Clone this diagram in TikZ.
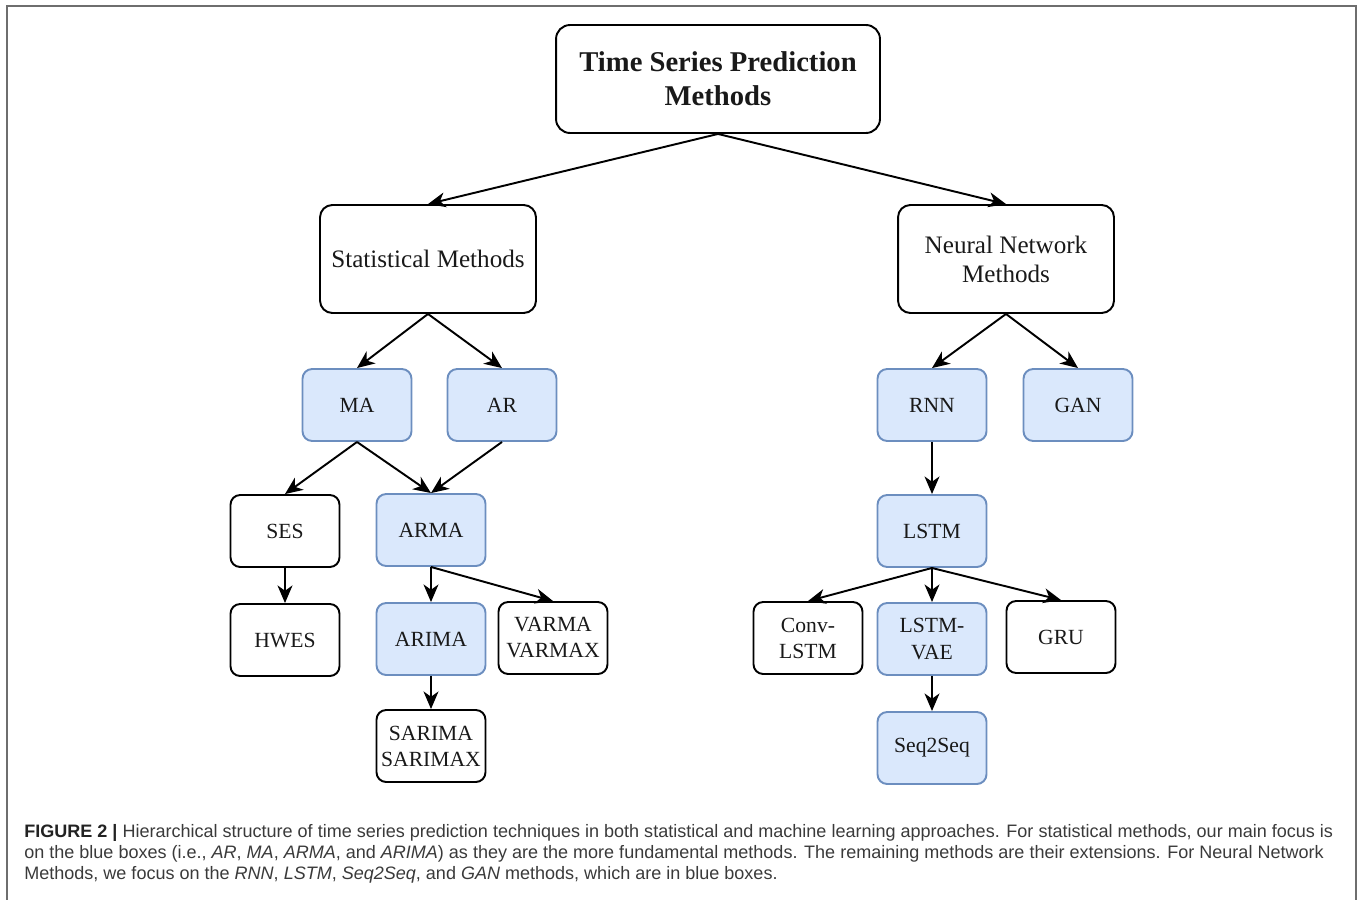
\documentclass[tikz,border=0pt]{standalone}
\usepackage{fontspec}
\setmainfont{Liberation Serif}
\newfontfamily\capfont{Liberation Sans}
\usetikzlibrary{arrows.meta}
\definecolor{bluefill}{HTML}{DAE8FC}
\definecolor{bluedraw}{HTML}{6C8EBF}
\definecolor{framegray}{HTML}{6E6E6E}
\definecolor{captxt}{HTML}{3A3A3A}
\definecolor{capbold}{HTML}{222222}
\newlength\capwidthmeasure
\newcommand\capLineOne{\textbf{\color{capbold}FIGURE 2 |} Hierarchical structure of time series prediction techniques in both statistical and machine learning approaches. For statistical methods, our main focus is}
\newcommand\capLineTwo{on the blue boxes (i.e., \textit{AR}, \textit{MA}, \textit{ARMA}, and \textit{ARIMA}) as they are the more fundamental methods. The remaining methods are their extensions. For Neural Network}
\newcommand\capLineThree{Methods, we focus on the \textit{RNN}, \textit{LSTM}, \textit{Seq2Seq}, and \textit{GAN} methods, which are in blue boxes.}
\begin{document}
\settowidth\capwidthmeasure{\capfont\fontsize{10}{12}\selectfont\capLineOne}%
\pgfmathsetmacro\capsz{10*26.18cm/\capwidthmeasure}%
\begin{tikzpicture}[x=0.02cm,y=-0.02cm,
  box/.style={draw=black, line width=1.1pt, rounded corners=5.5pt, minimum width=2.18cm, minimum height=1.44cm, align=center, inner sep=1pt, text=black!90, font=\fontsize{12.3}{14.8}\selectfont},
  bbox/.style={box, fill=bluefill, draw=bluedraw},
  bigbox/.style={box, minimum width=4.32cm, minimum height=2.16cm, rounded corners=7pt, font=\fontsize{14.3}{16.5}\selectfont},
  arr/.style={line width=1.1pt, -{Stealth[length=10pt,width=8.5pt,inset=3pt]}},
  capline/.style={anchor=base west, inner sep=0pt, text=captxt, font=\capfont\fontsize{\capsz}{12}\selectfont}]
\useasboundingbox (0,0) rectangle (1358,899);
% frame
\draw[framegray, line width=1.2pt] (7,905) -- (7,6) -- (1356,6) -- (1356,905);
% nodes
\node[box, minimum width=6.48cm, minimum height=2.16cm, rounded corners=8pt, font=\fontsize{16.3}{19.4}\selectfont\bfseries] (top) at (718,79) {Time Series Prediction\\Methods};
\node[bigbox] (stat) at (428,259) {Statistical Methods};
\node[bigbox] (nn) at (1006,259) {Neural Network\\Methods};
\node[bbox] (ma) at (357,405) {MA};
\node[bbox] (ar) at (502,405) {AR};
\node[bbox] (rnn) at (932,405) {RNN};
\node[bbox] (gan) at (1078,405) {GAN};
\node[box] (ses) at (285,531) {SES};
\node[bbox] (arma) at (431,530) {ARMA};
\node[box] (hwes) at (285,640) {HWES};
\node[bbox] (arima) at (431,639) {ARIMA};
\node[box] (varma) at (553,638) {VARMA\\VARMAX};
\node[box] (sarima) at (431,746) {SARIMA\\SARIMAX};
\node[bbox] (lstm) at (932,531) {LSTM};
\node[box] (conv) at (808,638) {Conv-\\LSTM};
\node[bbox] (lstmvae) at (932,639) {LSTM-\\VAE};
\node[box] (gru) at (1061,637) {GRU};
\node[bbox] (seq) at (932,748) {Seq2Seq};
% arrows
\draw[arr] (top.south) -- (stat.north);
\draw[arr] (top.south) -- (nn.north);
\draw[arr] (stat.south) -- (ma.north);
\draw[arr] (stat.south) -- (ar.north);
\draw[arr] (nn.south) -- (rnn.north);
\draw[arr] (nn.south) -- (gan.north);
\draw[arr] (ma.south) -- (ses.north);
\draw[arr] (ma.south) -- (arma.north);
\draw[arr] (ar.south) -- (arma.north);
\draw[arr] (ses.south) -- (hwes.north);
\draw[arr] (arma.south) -- (arima.north);
\draw[arr] (arma.south) -- (varma.north);
\draw[arr] (arima.south) -- (sarima.north);
\draw[arr] (rnn.south) -- (lstm.north);
\draw[arr] (lstm.south) -- (conv.north);
\draw[arr] (lstm.south) -- (lstmvae.north);
\draw[arr] (lstm.south) -- (gru.north);
\draw[arr] (lstmvae.south) -- (seq.north);
% caption
\node[capline] (cap1) at (24,837) {\capLineOne};
\node[capline] (cap2) at (24,858) {\capLineTwo};
\node[capline] (cap3) at (24,879) {\capLineThree};
\end{tikzpicture}
\end{document}
